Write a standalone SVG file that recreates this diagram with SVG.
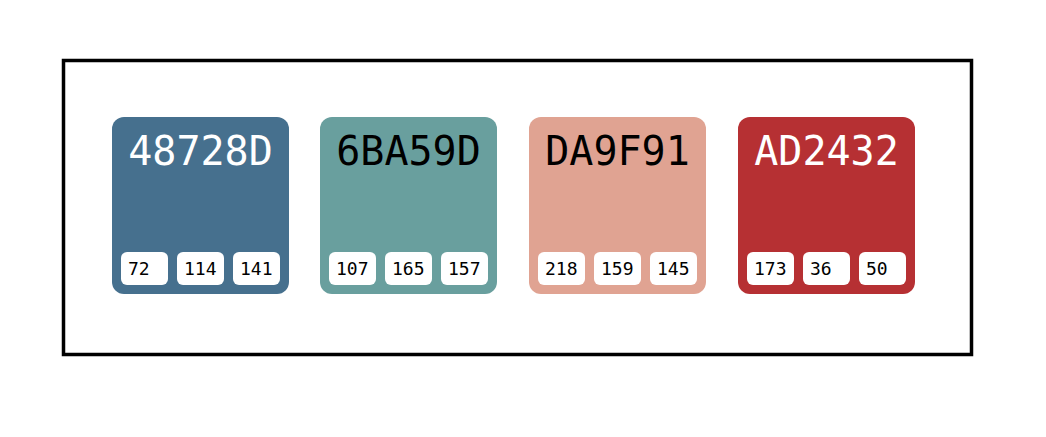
<svg xmlns="http://www.w3.org/2000/svg" width="1046" height="437" viewBox="0 0 1046 437">
<style>
.card{stroke:none}
.hex{font-family:"DejaVu Sans Mono",monospace;font-size:40px;text-anchor:middle}
.chip{fill:#ffffff}
.num{font-family:"DejaVu Sans Mono",monospace;font-size:18px;fill:#000000}
.light{fill:#ffffff}
.dark{fill:#000000}
</style>
<rect x="0" y="0" width="1046" height="437" fill="#ffffff"/>
<rect x="63.5" y="60.5" width="908" height="294" fill="none" stroke="#000000" stroke-width="3.5"/>
<g id="swatch-48728D" transform="translate(112,117)">
<rect class="card" width="177" height="177" rx="12" fill="#46708E"/>
<text class="hex light" x="88.5" y="48">48728D</text>
<rect class="chip" x="9" y="135" width="47" height="33" rx="6"/>
<rect class="chip" x="65" y="135" width="47" height="33" rx="6"/>
<rect class="chip" x="121" y="135" width="47" height="33" rx="6"/>
<text class="num" x="16" y="158">72</text>
<text class="num" x="72" y="158">114</text>
<text class="num" x="128" y="158">141</text>
</g>
<g id="swatch-6BA59D" transform="translate(320,117)">
<rect class="card" width="177" height="177" rx="12" fill="#699F9E"/>
<text class="hex dark" x="88.5" y="48">6BA59D</text>
<rect class="chip" x="9" y="135" width="47" height="33" rx="6"/>
<rect class="chip" x="65" y="135" width="47" height="33" rx="6"/>
<rect class="chip" x="121" y="135" width="47" height="33" rx="6"/>
<text class="num" x="16" y="158">107</text>
<text class="num" x="72" y="158">165</text>
<text class="num" x="128" y="158">157</text>
</g>
<g id="swatch-DA9F91" transform="translate(529,117)">
<rect class="card" width="177" height="177" rx="12" fill="#E0A392"/>
<text class="hex dark" x="88.5" y="48">DA9F91</text>
<rect class="chip" x="9" y="135" width="47" height="33" rx="6"/>
<rect class="chip" x="65" y="135" width="47" height="33" rx="6"/>
<rect class="chip" x="121" y="135" width="47" height="33" rx="6"/>
<text class="num" x="16" y="158">218</text>
<text class="num" x="72" y="158">159</text>
<text class="num" x="128" y="158">145</text>
</g>
<g id="swatch-AD2432" transform="translate(738,117)">
<rect class="card" width="177" height="177" rx="12" fill="#B63033"/>
<text class="hex light" x="88.5" y="48">AD2432</text>
<rect class="chip" x="9" y="135" width="47" height="33" rx="6"/>
<rect class="chip" x="65" y="135" width="47" height="33" rx="6"/>
<rect class="chip" x="121" y="135" width="47" height="33" rx="6"/>
<text class="num" x="16" y="158">173</text>
<text class="num" x="72" y="158">36</text>
<text class="num" x="128" y="158">50</text>
</g>
<g id="connectors"/>
</svg>
